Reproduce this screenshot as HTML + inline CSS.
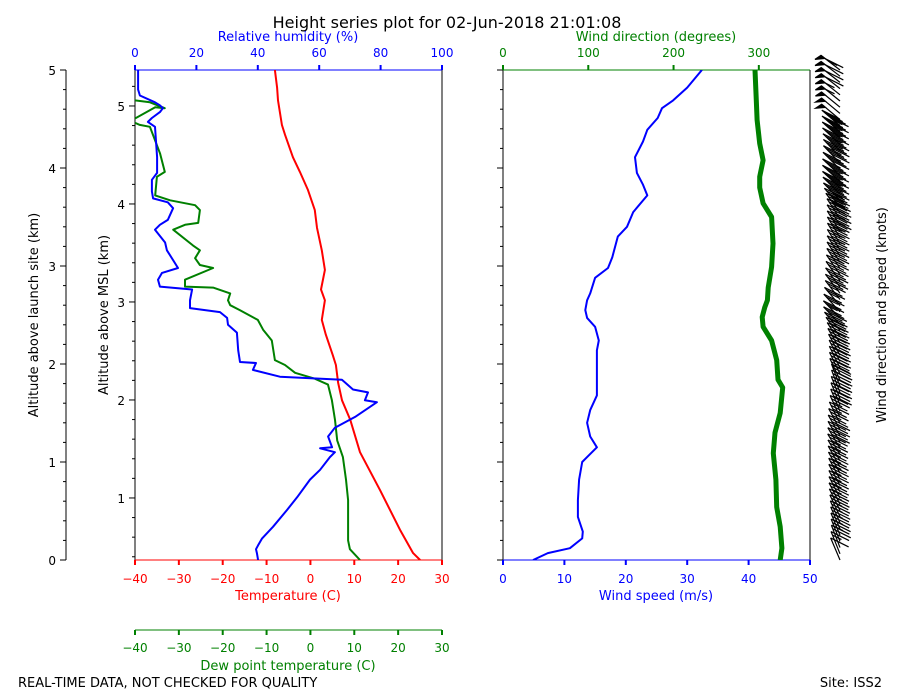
<!DOCTYPE html>
<html><head><meta charset="utf-8">
<style>
html,body{margin:0;padding:0;background:#fff;}
svg{display:block;font-family:"DejaVu Sans","Liberation Sans",sans-serif;}
</style></head>
<body>
<svg id="chart" width="900" height="700" viewBox="0 0 900 700" xmlns="http://www.w3.org/2000/svg">
<text x="447" y="28" font-size="16" text-anchor="middle">Height series plot for 02-Jun-2018 21:01:08</text>
<text x="18" y="687" font-size="13">REAL-TIME DATA, NOT CHECKED FOR QUALITY</text>
<text x="882" y="687" font-size="13" text-anchor="end">Site: ISS2</text>
<text transform="translate(38,315) rotate(-90)" font-size="13" text-anchor="middle">Altitude above launch site (km)</text>
<text transform="translate(108,315) rotate(-90)" font-size="13" text-anchor="middle">Altitude above MSL (km)</text>
<text transform="translate(886,315) rotate(-90)" font-size="13" text-anchor="middle">Wind direction and speed (knots)</text>
<text x="288" y="41" font-size="13" fill="#0000ff" text-anchor="middle">Relative humidity (%)</text>
<text x="656" y="41" font-size="13" fill="#008000" text-anchor="middle">Wind direction (degrees)</text>
<text x="288" y="600" font-size="13" fill="#ff0000" text-anchor="middle">Temperature (C)</text>
<text x="288" y="670" font-size="13" fill="#008000" text-anchor="middle">Dew point temperature (C)</text>
<text x="656" y="600" font-size="13" fill="#0000ff" text-anchor="middle">Wind speed (m/s)</text>
<defs>
<clipPath id="clipL"><rect x="135" y="70" width="307" height="490"/></clipPath>
<clipPath id="clipR"><rect x="503" y="70" width="307" height="490"/></clipPath>
</defs>
<g id="g"></g>
</svg>
<script>
// ---- data ----
const tempHeights=[0,0.07,0.31,0.71,1.10,1.43,1.63,1.81,1.99,2.09,2.30,2.45,2.65,2.76,2.96,3.16,3.39,3.57,3.78,3.96,4.11,4.34,4.44,4.69,4.82,5.0];
const tempValues=[25.0,23.4,20.4,15.9,11.3,9.1,7.2,6.3,5.8,5.1,3.5,2.6,3.3,2.4,3.3,2.6,1.5,1.0,-0.6,-2.4,-4.0,-5.8,-6.5,-7.4,-7.6,-8.1];
const dewHeights=[0,0.11,0.20,0.61,0.82,1.05,1.22,1.43,1.63,1.79,1.85,1.91,1.99,2.04,2.24,2.35,2.45,2.55,2.60,2.65,2.72,2.78,2.79,2.86,2.98,3.01,3.08,3.16,3.21,3.37,3.42,3.44,3.57,3.62,3.67,3.72,3.91,3.96,4.15,4.42,4.44,4.47,4.50,4.62,4.61,4.67,4.69,4.71,4.75,5.0];
const dewValues=[11.3,9.0,8.6,8.6,8.1,7.4,6.1,5.6,4.9,4.0,1.0,-3.5,-5.8,-8.1,-8.8,-10.8,-12.0,-16.1,-18.3,-18.8,-18.3,-22.2,-28.6,-28.6,-22.2,-25.2,-26.3,-25.2,-26.8,-31.3,-28.6,-25.6,-25.2,-26.3,-32.0,-35.4,-35.0,-33.2,-34.3,-36.6,-38.9,-40.5,-40.2,-35.4,-33.2,-36.6,-40.0,-41.1,-45,-45];
const rhHeights=[0,0.07,0.11,0.15,0.22,0.34,0.51,0.64,0.82,0.92,1.05,1.10,1.14,1.15,1.26,1.35,1.46,1.61,1.63,1.71,1.74,1.84,1.87,1.94,2.01,2.02,2.14,2.32,2.40,2.47,2.53,2.57,2.65,2.76,2.79,2.86,2.93,2.98,3.06,3.16,3.24,3.37,3.42,3.47,3.59,3.65,3.69,3.76,3.88,3.95,4.11,4.42,4.47,4.51,4.57,4.61,4.64,4.67,4.74,4.80,5.0];
const rhValues=[40.1,39.7,39.4,40.1,41.4,45.0,49.5,52.8,57.0,60.3,63.5,65.1,60.3,64.2,62.9,65.1,71.7,78.8,74.9,75.9,71.0,67.4,47.2,38.4,39.4,34.2,33.6,33.2,30.3,30.0,27.7,17.9,17.9,18.6,8.1,7.5,8.8,14.0,12.4,10.4,9.8,6.5,8.1,10.7,12.4,10.7,5.9,5.5,5.5,7.2,7.2,6.5,4.2,5.5,8.1,9.1,8.1,6.5,1.6,1.0,1.0];
const wspdHeights=[0,0.07,0.12,0.22,0.29,0.44,0.61,0.82,1.00,1.05,1.15,1.26,1.40,1.53,1.68,1.87,2.14,2.24,2.38,2.47,2.55,2.65,2.72,2.88,2.98,3.09,3.30,3.40,3.55,3.72,3.83,3.95,4.11,4.27,4.39,4.51,4.61,4.69,4.82,5.0];
const wspdValues=[4.9,7.3,10.9,12.9,13.0,12.2,12.2,12.4,12.9,13.7,15.3,14.2,13.7,14.2,15.3,15.3,15.3,15.6,15.0,13.7,13.4,13.7,14.2,15.0,17.1,17.8,18.7,20.2,21.2,23.5,22.8,21.8,21.5,22.8,23.5,25.2,25.9,27.7,30.0,32.4];
const wdirHeights=[0,0.12,0.34,0.54,0.82,1.09,1.30,1.50,1.76,1.84,2.04,2.24,2.38,2.48,2.58,2.65,2.78,2.99,3.23,3.50,3.64,3.80,3.91,4.08,4.25,4.49,4.69,5.0];
const wdirValues=[325,327,325,321,320,317,319,325,328,322.5,321,315,305,304,307,310,311,315,316.6,315,305,301,301,305,301,298,297,295.5];
const tempTicks=[-40,-30,-20,-10,0,10,20,30];
const rhTicks=[0,20,40,60,80,100];
const wspdTicks=[0,10,20,30,40,50];
const wdirTicks=[0,100,200,300];
const aglTicks=[0,1,2,3,4,5];
const mslTicks=[1,2,3,4,5];
const mslOffset=0.367;

// ---- scales ----
const yH=h=>560-h*98;
const xT=t=>135+(t+40)*307/70;
const xRH=r=>135+r*3.07;
const xWS=s=>503+s*6.14;
const xWD=d=>503+d*307/360;
const NS="http://www.w3.org/2000/svg";
const g=document.getElementById('g');
function mk(tag,attrs,parent){const e=document.createElementNS(NS,tag);for(const k in attrs)e.setAttribute(k,attrs[k]);(parent||g).appendChild(e);return e;}
function line(x1,y1,x2,y2,c,w,name){const e=mk('line',{x1,y1,x2,y2,stroke:c,'stroke-width':w||1});

return e;}
function txt(x,y,s,c,anchor,name){const e=mk('text',{x,y,'font-size':12,fill:c||'#000','text-anchor':anchor||'middle'});e.textContent=s;

return e;}
function series(hs,vs,xf,c,w,clip,name){const d=hs.map((h,i)=>(i?'L':'M')+xf(vs[i]).toFixed(1)+','+yH(h).toFixed(1)).join('');
const p=mk('path',{d,fill:'none',stroke:c,'stroke-width':w,'stroke-linejoin':'round','clip-path':'url(#'+clip+')'});

}

// outer AGL axis
line(66,70,66,560,'#000',1,'agl-axis-line');
for(let i=0;i<=25;i++){const y=yH(i*0.2);const maj=i%5===0;line(maj?60:63,y,66,y,'#000',1,'agl-tick');}
aglTicks.forEach(v=>txt(56,yH(v)+5,String(v),'#000','end','agl-tick-label'));
// inner MSL axis ticks
for(let m=0.4;m<=5.37;m+=0.2){const h=m-mslOffset;if(h<0||h>5)continue;const maj=Math.abs(m-Math.round(m))<0.01;line(maj?129:132,yH(h),135,yH(h),'#000',1,'msl-tick');}
mslTicks.forEach(v=>txt(125,yH(v-mslOffset)+5,String(v),'#000','end','msl-tick-label'));
// right panel left ticks
for(let i=0;i<=25;i++){const y=yH(i*0.2);const maj=i%5===0;line(maj?497:500,y,503,y,'#000',1,'wind-panel-tick');}

// left panel frame
line(135,70,135,560,'#000',1,'left-spine');line(442,70,442,560,'#000',1,'right-spine');
line(135,70,442,70,'#0000ff',1,'rh-axis-line');line(135,560,442,560,'#ff0000',1,'temp-axis-line');
line(135,630,442,630,'#008000',1,'dewpoint-axis-line');
tempTicks.forEach(t=>{line(xT(t),560,xT(t),565,'#ff0000',2,'temp-tick');txt(xT(t),583,String(t).replace('-','\u2212'),'#ff0000','middle','temp-tick-label');
line(xT(t),630,xT(t),635,'#008000',2,'dewpoint-tick');txt(xT(t),652,String(t).replace('-','\u2212'),'#008000','middle','dewpoint-tick-label');});
rhTicks.forEach(r=>{line(xRH(r),65,xRH(r),70,'#0000ff',2,'rh-tick');txt(xRH(r),57,String(r),'#0000ff','middle','rh-tick-label');});
// right panel frame
line(503,70,503,560,'#000',1,'wind-left-spine');line(810,70,810,560,'#000',1,'wind-right-spine');
line(503,70,810,70,'#008000',1,'wdir-axis-line');line(503,560,810,560,'#0000ff',1,'wspd-axis-line');
wspdTicks.forEach(s=>{line(xWS(s),560,xWS(s),565,'#0000ff',2,'wspd-tick');txt(xWS(s),583,String(s),'#0000ff','middle','wspd-tick-label');});
wdirTicks.forEach(d=>{line(xWD(d),65,xWD(d),70,'#008000',2,'wdir-tick');txt(xWD(d),57,String(d),'#008000','middle','wdir-tick-label');});

// series
series(tempHeights,tempValues,xT,'#ff0000',2,'clipL','temperature-line');
series(dewHeights,dewValues,xT,'#008000',2,'clipL','dewpoint-line');
series(rhHeights,rhValues,xRH,'#0000ff',2,'clipL','relative-humidity-line');
series(wspdHeights,wspdValues,xWS,'#0000ff',2,'clipR','wind-speed-line');
series(wdirHeights,wdirValues,xWD,'#008000',5,'clipR','wind-direction-line');

// barbs
function interp(hs,vs,h){for(let i=1;i<hs.length;i++){if(h<=hs[i]){const f=(h-hs[i-1])/(hs[i]-hs[i-1]||1);return vs[i-1]+f*(vs[i]-vs[i-1]);}}return vs[vs.length-1];}
const bg=mk('g',{stroke:'#000','stroke-width':1.2,fill:'#000'});


const L=24;
for(let k=0;k<80;k++){
  const h=k*5/79;
  const dir=(interp(wdirHeights,wdirValues,h)+12)*Math.PI/180;
  let kt=interp(wspdHeights,wspdValues,h)*1.944;
  const bx=840,by=yH(h);
  const ux=Math.sin(dir),uy=-Math.cos(dir);
  const tx=bx+ux*L,ty=by+uy*L;
  const st=mk('line',{x1:bx,y1:by,x2:tx,y2:ty},bg);
  
  
  const fx=18,fy=9;
  let pos=0;const step=0.16*L;
  kt=Math.round(kt/5)*5;
  let flags=Math.floor(kt/50);kt-=flags*50;let full=Math.floor(kt/10);kt-=full*10;let half=kt>=5?1:0;
  for(let f=0;f<flags;f++){const px=tx-ux*pos,py=ty-uy*pos;const qx=tx-ux*(pos+step*1.3),qy=ty-uy*(pos+step*1.3);
    const p=mk('polygon',{points:`${px},${py} ${px-6},${py+4} ${qx},${qy}`},bg);
    
    
    pos+=step*1.4;}
  for(let f=0;f<full;f++){const px=tx-ux*pos,py=ty-uy*pos;const e=mk('line',{x1:px,y1:py,x2:px+fx,y2:py+fy},bg);
    
    
    pos+=step;}
  if(half){if(pos===0)pos=step;const px=tx-ux*pos,py=ty-uy*pos;const e=mk('line',{x1:px,y1:py,x2:px+fx/2,y2:py+fy/2},bg);
    
    }
}
</script>
</body></html>
